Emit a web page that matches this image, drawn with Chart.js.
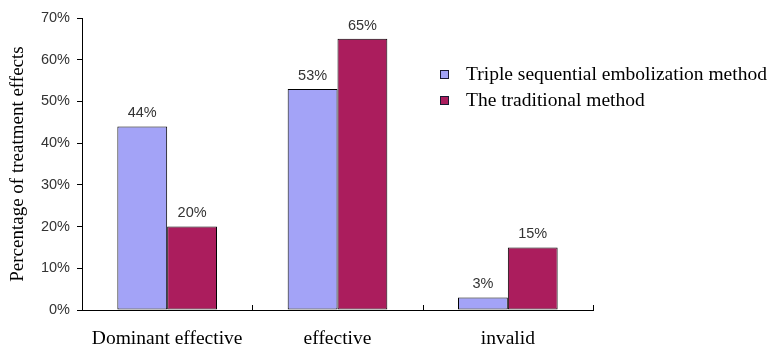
<!DOCTYPE html>
<html>
<head>
<meta charset="utf-8">
<script src="https://cdn.jsdelivr.net/npm/chart.js@4/dist/chart.umd.min.js"></script>
<style>
  html, body { margin: 0; padding: 0; background: #ffffff; }
  canvas { display: block; }
</style>
</head>
<body>
<canvas id="chart" width="768" height="348"></canvas>
<script>
// Treatment effect categories and percentages per method
const categories = ['Dominant effective', 'effective', 'invalid'];
const tripleSequential = [44, 53, 3];
const traditional = [20, 65, 15];
const seriesNames = ['Triple sequential embolization method', 'The traditional method'];
const yTicks = [0, 10, 20, 30, 40, 50, 60, 70];

const blue = '#a3a3f7';
const crimson = '#ab1d5d';
const serif = '"Liberation Serif", "Times New Roman", serif';
const sans = '"Liberation Sans", Arial, sans-serif';

// Percentage label above each bar
const valueLabels = {
  id: 'valueLabels',
  afterDatasetsDraw(chart) {
    const ctx = chart.ctx;
    ctx.save();
    ctx.font = '14.5px ' + sans;
    ctx.fillStyle = '#333333';
    ctx.textAlign = 'center';
    ctx.textBaseline = 'bottom';
    chart.data.datasets.forEach((ds, di) => {
      chart.getDatasetMeta(di).data.forEach((bar, i) => {
        ctx.fillText(ds.data[i] + '%', bar.x, bar.y - 6);
      });
    });
    ctx.restore();
  }
};

// Short upward tick marks at the category boundaries of the x axis
const categoryTicks = {
  id: 'categoryTicks',
  afterDraw(chart) {
    const x = chart.scales.x;
    const ctx = chart.ctx;
    const n = categories.length;
    const step = (x.right - x.left) / n;
    ctx.save();
    ctx.strokeStyle = '#000000';
    ctx.lineWidth = 1;
    ctx.beginPath();
    for (let i = 1; i <= n; i++) {
      const px = Math.round(x.left + i * step) + 0.5;
      ctx.moveTo(px, x.top);
      ctx.lineTo(px, x.top - 5);
    }
    ctx.stroke();
    ctx.restore();
  }
};

// Legend placed over the upper right of the plot
const boxLegend = {
  id: 'boxLegend',
  afterDraw(chart) {
    const ctx = chart.ctx;
    ctx.save();
    ctx.font = '19.5px ' + serif;
    ctx.textBaseline = 'middle';
    ctx.textAlign = 'left';
    chart.data.datasets.forEach((ds, i) => {
      const cy = 74 + i * 26;
      ctx.fillStyle = ds.backgroundColor;
      ctx.fillRect(440, cy - 4, 8, 8);
      ctx.strokeStyle = '#1a1a33';
      ctx.lineWidth = 1;
      ctx.strokeRect(440.5, cy - 3.5, 8, 8);
      ctx.fillStyle = '#000000';
      ctx.fillText(ds.label, 466, cy + 1);
    });
    ctx.restore();
  }
};

new Chart(document.getElementById('chart'), {
  type: 'bar',
  data: {
    labels: categories,
    datasets: [
      { label: seriesNames[0], data: tripleSequential, backgroundColor: blue,
        borderColor: '#000000', borderWidth: 1, borderSkipped: false },
      { label: seriesNames[1], data: traditional, backgroundColor: crimson,
        borderColor: '#000000', borderWidth: 1, borderSkipped: false }
    ]
  },
  options: {
    responsive: false,
    devicePixelRatio: 1,
    animation: false,
    layout: { padding: { top: 18, right: 175, bottom: 0, left: 0 } },
    datasets: { bar: { categoryPercentage: 0.585, barPercentage: 1.0 } },
    plugins: {
      legend: { display: false },
      tooltip: { enabled: false }
    },
    scales: {
      x: {
        grid: { display: false },
        border: { display: true, color: '#000000', width: 1 },
        ticks: {
          color: '#000000',
          padding: 9,
          font: { family: serif, size: 19.5 }
        },
        afterFit(scale) { scale.height = 38; }
      },
      y: {
        min: 0,
        max: 70,
        afterBuildTicks(scale) { scale.ticks = yTicks.map(v => ({ value: v })); },
        grid: { display: true, drawOnChartArea: false, drawTicks: true, tickLength: 5, color: '#000000' },
        border: { display: true, color: '#000000', width: 1 },
        ticks: {
          color: '#333333',
          padding: 7,
          font: { family: sans, size: 14.5 },
          callback: v => v + '%'
        },
        title: {
          display: true,
          text: 'Percentage of treatment effects',
          color: '#000000',
          padding: { top: 7, bottom: 4 },
          font: { family: serif, size: 19 }
        },
        afterFit(scale) { scale.width = 82; }
      }
    }
  },
  plugins: [valueLabels, categoryTicks, boxLegend]
});
</script>
</body>
</html>
